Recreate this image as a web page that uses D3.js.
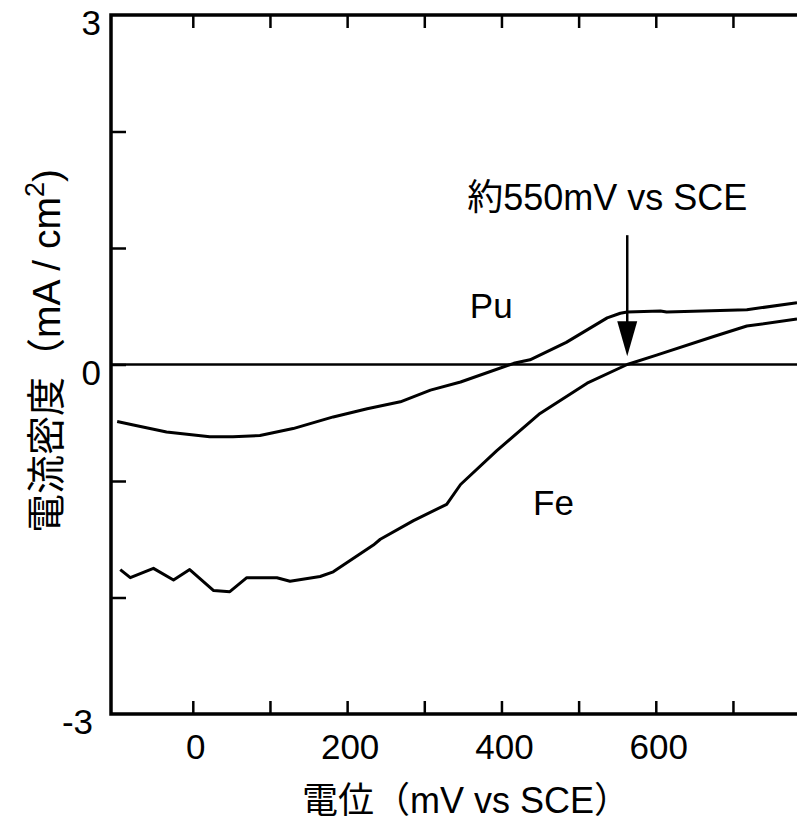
<!DOCTYPE html>
<html>
<head>
<meta charset="utf-8">
<script src="https://cdn.jsdelivr.net/npm/d3@7"></script>
<style>
  body { margin: 0; background: #fff; }
  svg { display: block; }
</style>
</head>
<body>
<div id="chart"></div>
<script>
// data
const potentialPu = [-98, -77, -34, 22, 52, 87, 130, 182, 226, 269, 308, 347, 416, 437, 484, 537, 554, 563, 606, 614, 718, 783];
const currentPu   = [-0.49, -0.52, -0.58, -0.62, -0.62, -0.61, -0.55, -0.45, -0.38, -0.32, -0.22, -0.15, 0.01, 0.04, 0.19, 0.40, 0.44, 0.45, 0.46, 0.45, 0.47, 0.53];

const potentialFe = [-94, -81, -51, -25, -4, 27, 48, 70, 109, 126, 165, 182, 234, 243, 286, 329, 347, 394, 450, 511, 563, 601, 675, 718, 783];
const currentFe   = [-1.76, -1.83, -1.75, -1.85, -1.76, -1.94, -1.95, -1.83, -1.83, -1.86, -1.82, -1.78, -1.55, -1.50, -1.34, -1.20, -1.03, -0.74, -0.42, -0.16, 0.00, 0.08, 0.24, 0.33, 0.39];

const xTicks = [0, 100, 200, 300, 400, 500, 600, 700];
const xTickLabels = [0, 200, 400, 600];
const yTicks = [-2, -1, 0, 1, 2];
const yTickLabels = [-3, 0, 3];

const seriesLabels = ["Pu", "Fe"];
const annotationText = "約550mV vs SCE";
const annotationPotential = 563;

const width = 797;
const height = 823;
const font = '"Liberation Sans", Arial, "Noto Sans CJK JP", sans-serif';

const svg = d3.select('#chart')
    .append('svg')
    .attr('width', width)
    .attr('height', height)
    .style('font-family', font);

const x = d3.scaleLinear()
    .domain([-106, 783])
    .range([111, 797]);

const y = d3.scaleLinear()
    .domain([-3, 3])
    .range([714, 15]);

// frame: left, bottom, top (the right side is cut off in the scan)
svg.append('path')
    .attr('d', `M${x.range()[1]},${y(3)}H${x(-106)}V${y(-3)}H${x.range()[1]}`)
    .attr('fill', 'none')
    .attr('stroke', '#000')
    .attr('stroke-width', 3.5)
    .attr('stroke-linejoin', 'miter');

// inward ticks
svg.append('g')
    .attr('transform', `translate(0,${y(-3)})`)
    .call(d3.axisBottom(x).tickValues(xTicks).tickSize(-13).tickFormat(''))
    .call(g => g.select('.domain').remove())
    .call(g => g.selectAll('line').attr('stroke-width', 2.5));

svg.append('g')
    .attr('transform', `translate(0,${y(3)})`)
    .call(d3.axisTop(x).tickValues(xTicks).tickSize(-13).tickFormat(''))
    .call(g => g.select('.domain').remove())
    .call(g => g.selectAll('line').attr('stroke-width', 2.5));

svg.append('g')
    .attr('transform', `translate(${x(-106)},0)`)
    .call(d3.axisLeft(y).tickValues(yTicks).tickSize(-15).tickFormat(''))
    .call(g => g.select('.domain').remove())
    .call(g => g.selectAll('line').attr('stroke-width', 2.5));

// tick labels
svg.append('g')
    .selectAll('text')
    .data(xTickLabels)
    .join('text')
    .attr('x', d => x(d) + 3)
    .attr('y', y(-3) + 45)
    .attr('text-anchor', 'middle')
    .attr('font-size', 35)
    .text(d => d);

svg.append('g')
    .selectAll('text')
    .data(yTickLabels)
    .join('text')
    .attr('x', d => d < 0 ? 93 : 101)
    .attr('y', d => y(d) + 20)
    .attr('text-anchor', 'end')
    .attr('font-size', 35)
    .text(d => d);

// zero line
svg.append('line')
    .attr('x1', x(-106))
    .attr('x2', x.range()[1])
    .attr('y1', y(0))
    .attr('y2', y(0))
    .attr('stroke', '#000')
    .attr('stroke-width', 2.5);

// curves
const line = d3.line()
    .x(d => x(d[0]))
    .y(d => y(d[1]));

const series = [d3.zip(potentialPu, currentPu), d3.zip(potentialFe, currentFe)];

svg.append('g')
    .selectAll('path')
    .data(series)
    .join('path')
    .attr('d', line)
    .attr('fill', 'none')
    .attr('stroke', '#000')
    .attr('stroke-width', 3)
    .attr('stroke-linejoin', 'round');

// series labels
const labelPos = [[359, 0.40], [441, -1.29]];
svg.append('g')
    .selectAll('text')
    .data(seriesLabels)
    .join('text')
    .attr('x', (d, i) => x(labelPos[i][0]))
    .attr('y', (d, i) => y(labelPos[i][1]))
    .attr('font-size', 35)
    .text(d => d);

// annotation arrow
const ax = x(annotationPotential);
const arrowTop = y(1.11);
const arrowTip = y(0.07);
svg.append('line')
    .attr('x1', ax).attr('x2', ax)
    .attr('y1', arrowTop).attr('y2', arrowTip - 30)
    .attr('stroke', '#000')
    .attr('stroke-width', 2.5);
svg.append('path')
    .attr('d', `M${ax - 10},${arrowTip - 35}L${ax + 10},${arrowTip - 35}L${ax},${arrowTip}Z`)
    .attr('fill', '#000');

svg.append('text')
    .attr('x', x(537))
    .attr('y', y(1.33))
    .attr('text-anchor', 'middle')
    .attr('font-size', 36)
    .text(annotationText);

// axis titles
svg.append('text')
    .attr('x', 466)
    .attr('y', 813)
    .attr('text-anchor', 'middle')
    .attr('font-size', 36)
    .text('電位（mV vs SCE）');

const yTitle = svg.append('text')
    .attr('transform', 'translate(60,351) rotate(-90)')
    .attr('text-anchor', 'middle')
    .attr('font-size', 39);
yTitle.append('tspan').text('電流密度（mA / cm');
yTitle.append('tspan').attr('dy', -16).attr('font-size', 27).text('2');
yTitle.append('tspan').attr('dy', 16).text(')');
</script>
</body>
</html>
